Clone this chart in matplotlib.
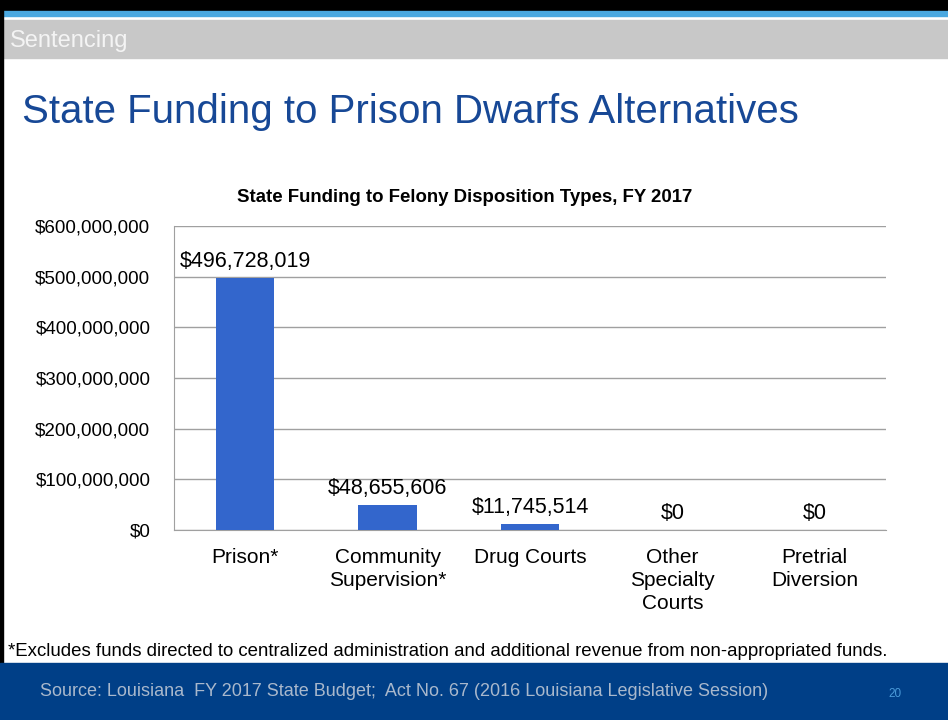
import matplotlib.pyplot as plt
from matplotlib.patches import Rectangle
from matplotlib.ticker import FuncFormatter

plt.rcParams['font.family'] = ['Liberation Sans', 'DejaVu Sans']

categories = ['Prison*', 'Community\nSupervision*', 'Drug Courts', 'Other\nSpecialty\nCourts', 'Pretrial\nDiversion']
funding = [496728019, 48655606, 11745514, 0, 0]
value_labels = ['$496,728,019', '$48,655,606', '$11,745,514', '$0', '$0']
y_ticks = [0, 100000000, 200000000, 300000000, 400000000, 500000000, 600000000]

W, H = 948, 720
fig = plt.figure(figsize=(W / 100, H / 100), dpi=100)

# slide background bands
def band(x0, y0, x1, y1, color):
    fig.patches.append(Rectangle((x0 / W, 1 - y1 / H), (x1 - x0) / W, (y1 - y0) / H,
                                 transform=fig.transFigure, color=color, zorder=0))

band(0, 0, W, 11, 'black')
band(0, 11, W, 16, '#4aa8e0')
band(0, 20, W, 58, '#c8c8c8')
band(0, 0, 3, 663, 'black')
band(0, 663, W, H, '#003f87')

fig.text(10 / W, 1 - 41 / H, 'Sentencing', color='#f4f4f4', fontsize=17, va='center')
fig.text(22 / W, 1 - 112 / H, 'State Funding to Prison Dwarfs Alternatives',
         color='#174896', fontsize=29, va='center')
fig.text(465 / W, 1 - 198 / H, 'State Funding to Felony Disposition Types, FY 2017',
         fontsize=13.4, fontweight='bold', ha='center', va='center')
fig.text(8 / W, 1 - 651 / H,
         '*Excludes funds directed to centralized administration and additional revenue from non-appropriated funds.',
         fontsize=13.4, va='center')
fig.text(40 / W, 1 - 692 / H,
         'Source: Louisiana  FY 2017 State Budget;  Act No. 67 (2016 Louisiana Legislative Session)',
         color='#a9b8cc', fontsize=13, va='center')
fig.text(895 / W, 1 - 694 / H, '20', color='#4a9ad8', fontsize=8.5, ha='center', va='center')

ax = fig.add_axes([174 / W, 1 - 530 / H, (886 - 174) / W, (530 - 226) / H])
x = range(len(categories))
ax.bar(x, funding, width=0.41, color='#3366cc', zorder=3)
for i, (v, lab) in enumerate(zip(funding, value_labels)):
    ax.text(i, v + 12000000, lab, ha='center', va='bottom', fontsize=15.5)

ax.set_xlim(-0.5, len(categories) - 0.5)
ax.set_ylim(0, 600000000)
ax.set_yticks(y_ticks)
ax.yaxis.set_major_formatter(FuncFormatter(lambda v, p: f'${v:,.0f}'))
ax.set_xticks(list(x))
ax.set_xticklabels(categories, fontsize=15, va='top', linespacing=1.27)
ax.tick_params(axis='y', labelsize=13.5, length=0, pad=17)
ax.tick_params(axis='x', length=0, pad=13)
ax.grid(axis='y', color='#a0a0a0', linewidth=1, zorder=0)
for s in ['top', 'right']:
    ax.spines[s].set_visible(False)
for s in ['left', 'bottom']:
    ax.spines[s].set_color('#a0a0a0')

fig.savefig('out.png', dpi=100)
